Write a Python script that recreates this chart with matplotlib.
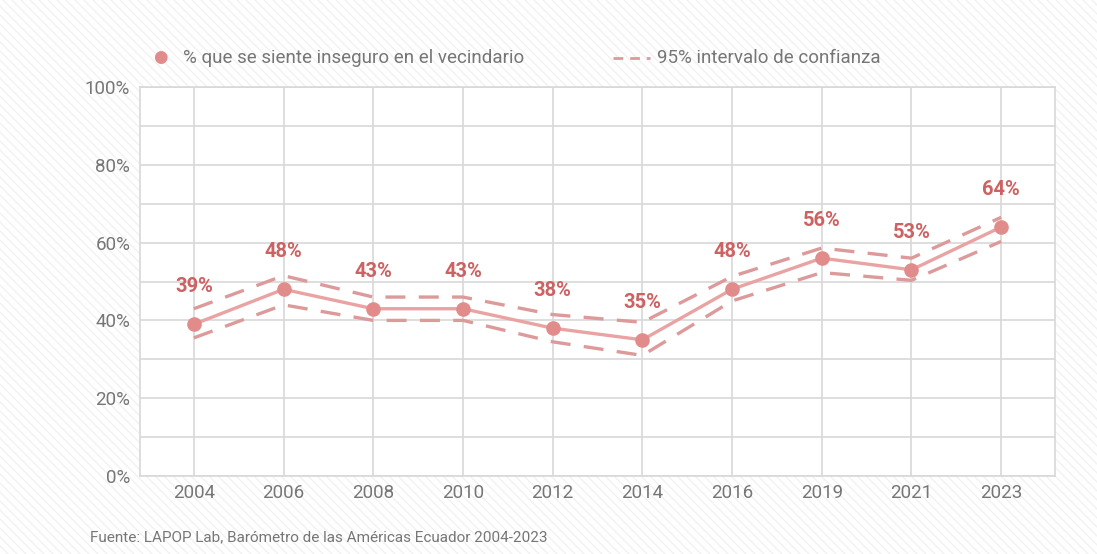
import matplotlib.pyplot as plt
import numpy as np

years = ["2004", "2006", "2008", "2010", "2012", "2014", "2016", "2019", "2021", "2023"]
inseguro = [39, 48, 43, 43, 38, 35, 48, 56, 53, 64]
ci_upper = [43, 51.5, 46, 46, 41.5, 39.5, 51.3, 58.6, 56, 66.5]
ci_lower = [35.5, 44, 40, 40, 34.5, 31, 45, 52.3, 50.3, 60.3]
y_ticks = [0, 20, 40, 60, 80, 100]

LINE = "#eaa3a3"
DOT = "#e28b8b"
DASH = "#dc9a9a"
LABEL = "#cd6262"
GRID = "#d8d8d8"
TXT = "#767676"

plt.rcParams["font.family"] = ["Roboto", "DejaVu Sans"]

fig = plt.figure(figsize=(10.97, 5.54), dpi=100)

# faint diagonal stripes in the background
bg = fig.add_axes([0, 0, 1, 1], zorder=-5)
bg.set_xlim(0, 1097)
bg.set_ylim(0, 554)
bg.axis("off")
for c in np.arange(-600, 1700, 9):
    bg.plot([c, c + 554], [554, 0], color="#f1f1f1", linewidth=1.0)

ax = fig.add_axes([140 / 1097, 1 - 476 / 554, 915 / 1097, 389 / 554])
ax.set_facecolor("white")
x = np.arange(len(years))

ax.plot(x, ci_upper, color=DASH, linewidth=2.4, dashes=(6, 4), zorder=2)
ax.plot(x, ci_lower, color=DASH, linewidth=2.4, dashes=(6, 4), zorder=2)
ax.plot(x, inseguro, color=LINE, linewidth=2.4, zorder=3)
ax.scatter(x, inseguro, s=90, color=DOT, zorder=4)

for xi, v in zip(x, inseguro):
    ax.annotate(f"{v}%", (xi, v), xytext=(0, 27), textcoords="offset points",
                ha="center", va="center", fontsize=14.5, fontweight="semibold", color=LABEL)

ax.set_xlim(-0.6, 9.6)
ax.set_ylim(0, 100)
ax.set_xticks(x)
ax.set_xticklabels(years)
ax.set_yticks(y_ticks)
ax.set_yticklabels([f"{t}%" for t in y_ticks])
ax.set_yticks(np.arange(0, 101, 10), minor=True)
ax.grid(which="both", axis="y", color=GRID, linewidth=1.2)
ax.grid(which="major", axis="x", color=GRID, linewidth=1.2)
ax.set_axisbelow(True)
ax.tick_params(which="both", length=0, colors=TXT, labelsize=13.5)
ax.tick_params(axis="y", pad=7)
ax.tick_params(axis="x", pad=6)
for s in ax.spines.values():
    s.set_color(GRID)
    s.set_linewidth(1.2)

# legend
fig.text(160 / 1097, 1 - 58 / 554, "●", color=DOT, fontsize=12, ha="center", va="center")
fig.text(183 / 1097, 1 - 58 / 554, "% que se siente inseguro en el vecindario",
         color=TXT, fontsize=13.5, ha="left", va="center")
fig.add_artist(plt.Line2D([613 / 1097, 650 / 1097], [1 - 58 / 554, 1 - 58 / 554],
                          color=DASH, linewidth=2.0, dashes=(3.5, 2.5)))
fig.text(657 / 1097, 1 - 58 / 554, "95% intervalo de confianza",
         color=TXT, fontsize=13.5, ha="left", va="center")

fig.text(90 / 1097, 1 - 537 / 554, "Fuente: LAPOP Lab, Barómetro de las Américas Ecuador 2004-2023",
         color=TXT, fontsize=11, ha="left", va="center")

fig.savefig("out.png", dpi=100)
